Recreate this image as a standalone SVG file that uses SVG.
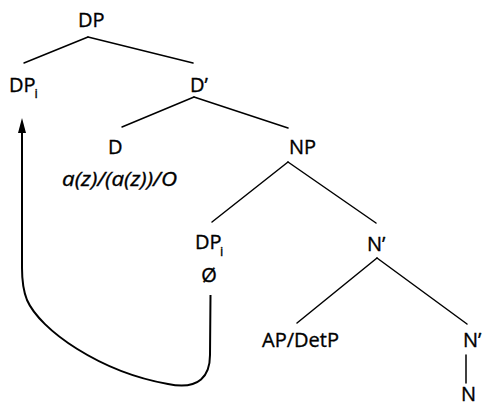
<svg xmlns="http://www.w3.org/2000/svg" width="482" height="407" viewBox="0 0 482 407">
  <style>
    .lbl { font-family: "Open Sans", "DejaVu Sans", sans-serif; font-size: 20px; fill: #000; stroke: #000; stroke-width: 0.35; }
    .it { font-style: italic; }
    .sub { font-size: 13px; }
    .edge { stroke: #000; stroke-width: 1.5; fill: none; stroke-linecap: round; }
    .move { stroke: #000; stroke-width: 2; fill: none; }
  </style>

  <g id="connectors">
    <line class="edge" x1="88" y1="37" x2="24" y2="63"/>
    <line class="edge" x1="88" y1="37" x2="193" y2="63"/>
    <line class="edge" x1="194" y1="97" x2="122" y2="127"/>
    <line class="edge" x1="194" y1="97" x2="288" y2="128"/>
    <line class="edge" x1="288" y1="162" x2="212" y2="222"/>
    <line class="edge" x1="288" y1="162" x2="376" y2="223"/>
    <line class="edge" x1="377" y1="258" x2="297" y2="323"/>
    <line class="edge" x1="377" y1="258" x2="467" y2="324"/>
    <line class="edge" x1="466" y1="355" x2="466" y2="383"/>
    <!-- movement arrow from the empty DP back up to the specifier DP -->
    <path class="move" d="M210.5 295 L210 355 C210 375 200 390.6 168 384 C100 372 40 330 27 300 C23 290 22 282 22 268 L22 132"/>
    <path d="M22 118 L26 133 L18 133 Z" fill="#000"/>
  </g>

  <g id="dp-root"><text class="lbl" x="78" y="27">DP</text></g>
  <g id="dp-spec"><text class="lbl" x="9" y="92">DP</text><text class="lbl sub" x="34.5" y="98">i</text></g>
  <g id="d-bar"><text class="lbl" x="190" y="92">D’</text></g>
  <g id="d-head">
    <text class="lbl" x="108" y="154">D</text>
    <text class="lbl it" x="62" y="186" textLength="115" lengthAdjust="spacingAndGlyphs">a(z)/(a(z))/O</text>
  </g>
  <g id="np"><text class="lbl" x="289" y="154">NP</text></g>
  <g id="dp-trace">
    <text class="lbl" x="195" y="249">DP</text><text class="lbl sub" x="220" y="256">i</text>
    <text class="lbl" x="209" y="282" text-anchor="middle">Ø</text>
  </g>
  <g id="n-bar"><text class="lbl" x="367" y="251">N’</text></g>
  <g id="ap-detp"><text class="lbl" x="262" y="347">AP/DetP</text></g>
  <g id="n-bar-low"><text class="lbl" x="463" y="347">N’</text></g>
  <g id="n-head"><text class="lbl" x="461" y="401">N</text></g>
</svg>
